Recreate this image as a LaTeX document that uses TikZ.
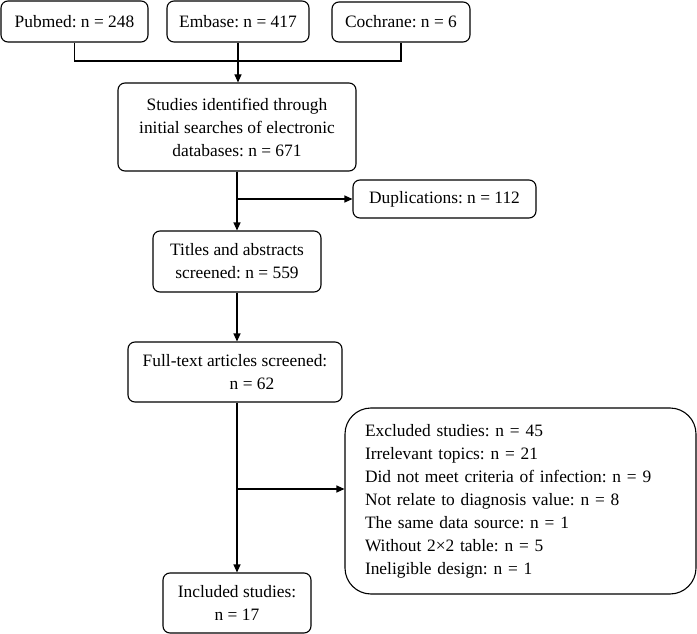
\documentclass[tikz,border=0pt]{standalone}
\usepackage{fontspec}
\setmainfont{Liberation Serif}
\usetikzlibrary{arrows.meta}
\frenchspacing
\tikzset{
  box/.style={draw, line width=1.1pt, rounded corners=7pt, align=center, inner sep=0pt,
    font=\fontsize{17.4}{23}\selectfont},
  bigbox/.style={box, rounded corners=26pt, align=left},
  link/.style={draw, line width=1.1pt},
  arr/.style={link, -{Triangle[length=8pt,width=7pt]}},
}

\begin{document}
\begin{tikzpicture}[x=1pt, y=-1pt]
  \useasboundingbox (0,0) rectangle (697,634);

  % databases
  \node[box, minimum width=147, minimum height=41] (pubmed) at (74.5,21.5) {Pubmed: n = 248};
  \node[box, minimum width=142, minimum height=41] (embase) at (238,21.5) {Embase: n = 417};
  \node[box, minimum width=138, minimum height=40] (cochrane) at (401,22) {Cochrane: n = 6};
  \coordinate (join) at (237,61);

  \node[box, minimum width=238, minimum height=88] (studies) at (237,127)
    {Studies identified through\\initial searches of electronic\\databases: n = 671};
  \node[box, minimum width=183, minimum height=38] (dup) at (444.5,199) {Duplications: n = 112};
  \node[box, minimum width=168, minimum height=61] (titles) at (237,261.5)
    {Titles and abstracts\\screened: n = 559};
  \node[box, minimum width=214, minimum height=60, align=left] (fulltext) at (235,372)
    {Full-text articles screened:\\\hspace*{87pt}n = 62};
  \node[bigbox, minimum height=186, text width=311, inner xsep=20] (excl) at (520.5,501)
    {Excluded studies: n = 45\\Irrelevant topics: n = 21\\Did not meet criteria of infection: n = 9\\
     Not relate to diagnosis value: n = 8\\The same data source: n = 1\\Without 2×2 table: n = 5\\
     Ineligible design: n = 1};
  \node[box, minimum width=148, minimum height=60] (incl) at (237,603)
    {Included studies:\\n = 17};
  \coordinate (exjoin) at (237,489);

  % connectors
  \draw[link] (pubmed.south) -- (pubmed.south |- join) -- (cochrane.south |- join) -- (cochrane.south);
  \draw[arr] (embase.south) -- (embase.south |- studies.north);
  \draw[arr] (studies.south) -- (titles.north);
  \draw[arr] (studies.south |- dup.west) -- (dup.west);
  \draw[arr] (titles.south) -- (titles.south |- fulltext.north);
  \draw[arr] (titles.south |- fulltext.south) -- (incl.north);
  \draw[arr] (exjoin) -- (exjoin -| excl.west);
\end{tikzpicture}
\end{document}
